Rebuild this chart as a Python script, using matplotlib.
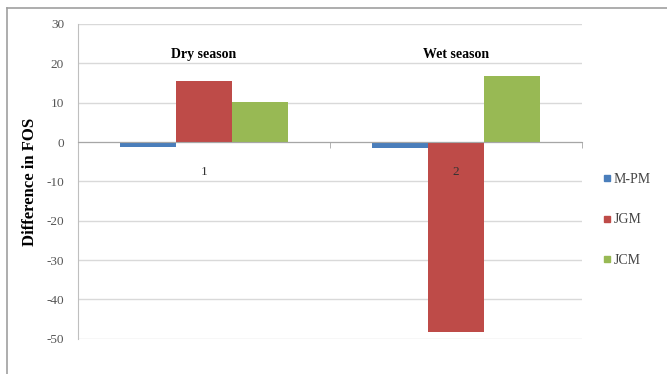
import numpy as np
import matplotlib.pyplot as plt
from matplotlib.lines import Line2D

plt.rcParams['font.family'] = ['Liberation Serif', 'DejaVu Serif']
plt.rcParams['axes.unicode_minus'] = False

# data
categories = ['1', '2']
seasons = ['Dry season', 'Wet season']
series = ['M-PM', 'JGM', 'JCM']
mpm = [-1.2, -1.6]
jgm = [15.4, -48.2]
jcm = [10.1, 16.9]
colors = ['#4a7ebb', '#be4b48', '#98b954']

fig = plt.figure(figsize=(6.67, 3.74), dpi=100)
ax = fig.add_axes([0.117, 0.094, 0.756, 0.842])

x = np.arange(1, len(categories) + 1)
w = 0.222
for i, (vals, c, name) in enumerate(zip([mpm, jgm, jcm], colors, series)):
    ax.bar(x + (i - 1) * w, vals, w, color=c, label=name, zorder=1.2)

ax.set_xlim(0.5, 2.5)
ax.set_ylim(-50, 30)
yt = np.arange(-50, 31, 10)
ax.set_yticks(yt)
for v in yt:
    ax.axhline(v, color='#d9d9d9', linewidth=1, zorder=0.5)

for s in ['top', 'right']:
    ax.spines[s].set_visible(False)
ax.spines['left'].set_color('#bfbfbf')
ax.spines['bottom'].set_position(('data', 0))
ax.spines['bottom'].set_color('#a6a6a6')
ax.xaxis.set_zorder(3)

ax.set_xticks(x)
ax.set_xticklabels(categories, fontsize=9.5, color='#333333')
ax.set_xticks([1.5, 2.5], minor=True)
ax.tick_params(axis='x', which='major', length=0, pad=17)
ax.tick_params(axis='x', which='minor', length=4, color='#a6a6a6', direction='out')
ax.tick_params(axis='y', length=0, labelsize=9.5, labelcolor='#555555', pad=10)

ax.set_ylabel('Difference in FOS', fontsize=12, fontweight='bold', labelpad=6)

for xi, s in zip(x, seasons):
    ax.text(xi, 22.3, s, ha='center', va='center', fontsize=10, fontweight='bold')

handles = [Line2D([], [], marker='s', linestyle='', color=c, markersize=5) for c in colors]
fig.legend(handles, series, loc='center left', bbox_to_anchor=(0.883, 0.412),
           frameon=False, fontsize=10, handletextpad=0.1, labelspacing=2.0,
           handlelength=0.8, labelcolor='#444444')

# outer chart border
fig.add_artist(Line2D([0.0105, 1.0], [0.979, 0.979], color='#a0a0a0', lw=1.2))
fig.add_artist(Line2D([0.0105, 0.0105], [0.0, 0.979], color='#a0a0a0', lw=1.2))

fig.savefig('out.png', dpi=100)
